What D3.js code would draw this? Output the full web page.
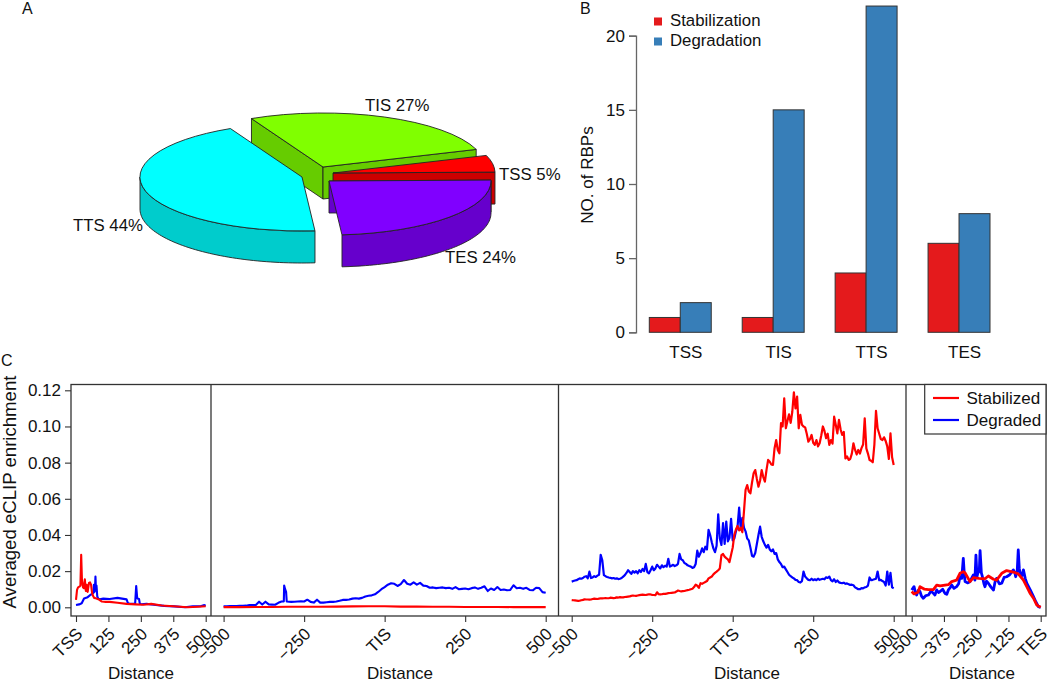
<!DOCTYPE html>
<html><head><meta charset="utf-8">
<script src="https://cdn.jsdelivr.net/npm/d3@7"></script>
<style>html,body{margin:0;padding:0;background:#fff}svg{display:block}text{font-family:"Liberation Sans",Arial,sans-serif;fill:#111}</style>
</head><body><svg id="c" width="1050" height="683"></svg>
<script>
// ---------- Panel A data
const pieNames = ["TES","TTS","TIS","TSS"];
const pieShares = [24,44,27,5];
const pieTop = ["#8000ff","#00ffff","#80ff00","#ff0000"];
const pieSide = ["#6600cc","#00cccc","#66cc00","#cc0000"];

// ---------- Panel B data
const barCats = ["TSS","TIS","TTS","TES"];
const barStabilization = [1,1,4,6];
const barDegradation = [2,15,22,8];

// ---------- Panel C data
const yTicks = [0,0.02,0.04,0.06,0.08,0.10,0.12];

const tssStabDist = [0,4,8,13,17,20,23,27,31,34,38,41,45,50,54,58,62,66,70,76,86,100,115,130,160,195,230,260,290,330,375,430,470,500];
const tssStabVal = [.0041,.0096,.0110,.0114,.0120,.0290,.0150,.0110,.0105,.0155,.0090,.0125,.0085,.0135,.0138,.0125,.0080,.0062,.0052,.0050,.0045,.0032,.0030,.0030,.0025,.0019,.0016,.0014,.0019,.0010,.0006,.0000,.0003,.0006];
const tssDegDist = [0,12,22,31,45,54,60,67,69,71,73,75,77,79,82,86,92,105,130,160,195,197,200,203,205,228,232,236,240,243,246,250,253,262,272,300,340,380,420,450,480,495,500];
const tssDegVal = [.0013,.0016,.0022,.0049,.0056,.0067,.0072,.0080,.0124,.0085,.0090,.0170,.0095,.0120,.0060,.0048,.0045,.0048,.0046,.0052,.0044,.0036,.0022,.0022,.0020,.0020,.0118,.0050,.0047,.0046,.0020,.0018,.0017,.0018,.0019,.0014,.0008,.0005,.0000,.0005,.0006,.0012,.0009];

const tisStabVal = [.0001,.0001,.0002,.0002,.0003,.0003,.0003,.0004,.0005,.0006,.0006,.0004,.0004,.0003,.0003,.0002,.0002,.0002,.0001,.0001,.0001];
const tisDegVal = [
.0005,.0006,.0007,.0007,.0007,.0008,.0008,.0009,.0013,.0013,
.0013,.0031,.0015,.0031,.0016,.0015,.0014,.0025,.0032,.0033,.0120,.0100,.0085,.0032,
.0030,.0031,.0032,.0033,.0032,.0042,.0030,.0026,.0042,
.0026,.0026,.0028,.0030,.0030,.0032,.0036,.0041,.0041,.0043,
.0048,.0050,.0048,.0052,.0060,.0064,.0066,.0072,.0085,.0100,
.0112,.0125,.0133,.0130,.0118,.0128,.0151,.0130,.0125,.0138,
.0125,.0135,.0120,.0118,.0108,.0110,.0106,.0108,.0110,.0106,
.0108,.0102,.0112,.0100,.0102,.0104,.0100,.0106,.0110,.0102,
.0108,.0116,.0090,.0104,.0096,.0112,.0096,.0098,.0094,.0096,
.0122,.0105,.0108,.0102,.0108,.0096,.0094,.0108,.0106,.0084,.0080];

const ttsStabVal = [
.0040,.0039,.0038,.0037,.0036,.0037,.0039,.0041,.0044,.0043,
.0043,.0042,.0043,.0046,.0048,.0047,.0046,.0048,.0050,.0049,
.0050,.0051,.0050,.0050,.0053,.0052,.0051,.0052,.0055,.0054,
.0056,.0055,.0055,.0057,.0058,.0059,.0060,.0063,.0065,.0064,
.0063,.0065,.0067,.0069,.0070,.0069,.0068,.0070,.0072,.0071,
.0069,.0068,.0067,.0083,.0072,.0071,.0072,.0074,.0074,.0076,
.0078,.0079,.0080,.0081,.0082,.0087,.0093,.0090,.0088,.0089,
.0090,.0093,.0095,.0097,.0100,.0103,.0112,.0125,.0119,.0108,
.0133,.0130,.0135,.0140,.0145,.0160,.0165,.0170,.0182,.0190,
.0197,.0205,.0215,.0289,.0295,.0280,.0272,.0265,.0250,.0290,
.0330,.0400,.0430,.0450,.0425,.0440,.0415,.0530,.0650,.0676,
.0640,.0630,.0690,.0741,.0759,.0710,.0667,.0700,.0759,.0720,
.0695,.0760,.0815,.0805,.0790,.0787,.0880,.0925,.0870,.0852,
.1018,.1000,.1156,.0990,.1030,.1067,.1020,.1080,.1189,.1100,
.1165,.0990,.1064,.1010,.1000,.0995,.0960,.0916,.0930,.0953,
.0910,.0898,.0925,.0890,.0907,.0950,.1000,.0975,.0935,.0960,
.0898,.0925,.0905,.1054,.1010,.0962,.1036,.0985,.0953,.0970,
.0823,.0835,.0815,.0820,.0850,.0907,.0870,.0845,.0870,.0850,
.0880,.0900,.1045,.0879,.0850,.0815,.0810,.0802,.0900,.1086,
.0990,.0960,.0930,.0925,.0940,.0920,.0890,.0820,.0962,.0830,.0787];
const ttsDegVal = [
.0142,.0145,.0148,.0150,.0155,.0160,.0158,.0162,.0169,.0172,
.0160,.0197,.0162,.0165,.0172,.0168,.0175,.0180,.0290,.0260,
.0178,.0172,.0168,.0165,.0163,.0160,.0162,.0158,.0160,.0156,
.0158,.0162,.0170,.0178,.0190,.0205,.0195,.0185,.0200,.0192,
.0200,.0188,.0205,.0195,.0212,.0200,.0240,.0195,.0188,.0205,
.0225,.0205,.0215,.0235,.0225,.0215,.0232,.0222,.0230,.0225,
.0268,.0225,.0230,.0235,.0228,.0232,.0240,.0295,.0265,.0260,
.0245,.0240,.0232,.0228,.0225,.0218,.0222,.0240,.0313,.0280,
.0300,.0326,.0305,.0335,.0320,.0428,.0400,.0360,.0326,.0305,
.0340,.0514,.0380,.0345,.0465,.0350,.0474,.0365,.0385,.0489,
.0370,.0380,.0420,.0445,.0551,.0430,.0495,.0440,.0420,.0380,
.0370,.0330,.0285,.0280,.0300,.0350,.0400,.0446,.0390,.0365,
.0345,.0330,.0345,.0320,.0310,.0320,.0295,.0300,.0265,.0250,
.0240,.0222,.0225,.0210,.0195,.0180,.0172,.0165,.0160,.0152,
.0150,.0140,.0137,.0145,.0198,.0170,.0160,.0152,.0150,.0158,
.0150,.0155,.0150,.0158,.0152,.0155,.0158,.0155,.0166,.0162,
.0170,.0150,.0143,.0155,.0140,.0148,.0138,.0135,.0134,.0136,
.0130,.0132,.0128,.0124,.0125,.0122,.0110,.0105,.0100,.0100,
.0106,.0105,.0110,.0112,.0120,.0165,.0150,.0152,.0155,.0158,
.0198,.0150,.0152,.0145,.0140,.0120,.0198,.0125,.0190,.0110,.0105];

const tesStabDist = [-500,-491,-475,-468,-450,-435,-416,-403,-390,-371,-358,-345,-326,-313,-300,-293,-274,-261,-240,-216,-203,-183,-171,-151,-132,-106,-87,-67,-54,-40,-28,-15,-9,0];
const tesStabVal = [.0087,.0074,.0085,.0114,.0100,.0098,.0098,.0123,.0118,.0123,.0125,.0142,.0150,.0188,.0197,.0190,.0142,.0164,.0160,.0158,.0173,.0155,.0150,.0188,.0203,.0195,.0185,.0150,.0114,.0075,.0050,.0012,.0007,.0000];
const tesDegDist = [-500,-491,-486,-481,-474,-468,-462,-455,-445,-435,-425,-416,-410,-403,-396,-390,-380,-371,-364,-358,-350,-345,-336,-326,-318,-313,-306,-300,-296,-293,-284,-274,-266,-261,-255,-251,-247,-244,-238,-235,-230,-226,-220,-216,-210,-203,-192,-183,-177,-171,-160,-151,-142,-132,-120,-106,-100,-97,-91,-87,-83,-80,-73,-67,-60,-54,-40,-28,-18,-9,0];
const tesDegVal = [.0096,.0114,.0085,.0068,.0095,.0087,.0062,.0050,.0065,.0068,.0090,.0077,.0068,.0096,.0082,.0087,.0100,.0077,.0072,.0096,.0110,.0123,.0105,.0114,.0130,.0169,.0160,.0271,.0180,.0142,.0135,.0142,.0165,.0179,.0150,.0289,.0170,.0188,.0200,.0313,.0190,.0169,.0130,.0114,.0145,.0133,.0110,.0096,.0140,.0160,.0130,.0133,.0165,.0169,.0180,.0207,.0190,.0169,.0200,.0317,.0215,.0188,.0175,.0207,.0160,.0133,.0095,.0059,.0028,.0004,.0000];

const panels = [
 {range:[76,205.7],  ticks:[0,125,250,375,500],        labels:["TSS","125","250","375","500"],        domain:[0,500]},
 {range:[223.6,545.7],ticks:[-500,-250,0,250,500],     labels:["−500","−250","TIS","250","500"],      domain:[-500,500]},
 {range:[571.7,893.7],ticks:[-500,-250,0,250,500],     labels:["−500","−250","TTS","250","500"],      domain:[-500,500]},
 {range:[911.7,1040.7],ticks:[-500,-375,-250,-125,0],  labels:["−500","−375","−250","−125","TES"],    domain:[-500,0]}
];
const tisDist = [...d3.range(-500,-310,10),-313,-312,-309,-306,-304,...d3.range(-290,501,10)];
const tisStabDist = d3.range(-500,501,50), ttsDist = d3.range(-500,501,5);
const panelSeries = [
 [[tssDegDist,tssDegVal,"#0000ff",2.1],[tssStabDist,tssStabVal,"#ff0000",2.1]],
 [[tisDist,tisDegVal,"#0000ff",2.1],[tisStabDist,tisStabVal,"#ff0000",2.1]],
 [[ttsDist,ttsDegVal,"#0000ff",2.2],[ttsDist,ttsStabVal,"#ff0000",2.2]],
 [[tesDegDist,tesDegVal,"#0000ff",2.8],[tesStabDist,tesStabVal,"#ff0000",2.8]]
];

const svg = d3.select("#c");
const label = (t,x,y,size,anchor="start",rot=0)=>svg.append("text").text(t)
  .attr("transform",`translate(${x},${y}) rotate(${rot})`).attr("font-size",size).attr("text-anchor",anchor);

label("A",22,14,16); label("B",580,14,16); label("C",1,366,16);

// ---------- Panel A: exploded 3-D pie
const rx=162, ry=54, depth=32;
const pieCentres = [[329,181],[302,177],[323,167],[333,173]];
const cutFaces = [["start"],[],["start","end"],["end"]];
const pieLabels = [["TES 24%",445,263],["TTS 44%",73,231],["TIS 27%",365,110.5],["TSS 5%",499,180]];
const pieStart = Math.PI/2 - Math.PI/180;
const arcs = d3.pie().sort(null).startAngle(pieStart).endAngle(pieStart+Math.PI*2)(pieShares);
const unitArc = d3.arc().innerRadius(0).outerRadius(1);
const pieLine = d3.line();
const ptAt = (c,a,dy=0)=>[c[0]+rx*Math.sin(a), c[1]-ry*Math.cos(a)+dy];
const gPie = svg.append("g").attr("stroke","#222").attr("stroke-width",0.9).attr("stroke-linejoin","round");
[2,3,1,0].forEach(i=>{
  const a=arcs[i], c=pieCentres[i];
  cutFaces[i].forEach(side=>{
    const ang = side==="start"?a.startAngle:a.endAngle, e=ptAt(c,ang);
    gPie.append("path").attr("fill",pieSide[i])
      .attr("d",pieLine([c,e,[e[0],e[1]+depth],[c[0],c[1]+depth]])+"Z");
  });
  const lo=Math.max(a.startAngle,Math.PI/2), hi=Math.min(a.endAngle,Math.PI*1.5);
  if(hi>lo){
    const n=60, ang=d3.range(n+1).map(k=>lo+(hi-lo)*k/n);
    const pts=ang.map(t=>ptAt(c,t)).concat(ang.slice().reverse().map(t=>ptAt(c,t,depth)));
    gPie.append("path").attr("fill",pieSide[i]).attr("d",pieLine(pts)+"Z");
  }
  gPie.append("path").attr("fill",pieTop[i]).attr("vector-effect","non-scaling-stroke")
    .attr("transform",`translate(${c[0]},${c[1]}) scale(${rx},${ry})`)
    .attr("d",unitArc(a));
});
pieLabels.forEach(l=>label(l[0],l[1],l[2],16.8));

// ---------- Panel B: bars
const by = d3.scaleLinear().domain([0,20]).range([332.3,35.7]);
const bx = d3.scaleBand().domain(barCats).range([649.3,990]).paddingInner(1/3).paddingOuter(0);
const bSub = d3.scaleBand().domain([0,1]).range([0,bx.bandwidth()]);
[[barStabilization,"#e41a1c"],[barDegradation,"#377eb8"]].forEach((s,k)=>{
  svg.append("g").selectAll("rect").data(s[0]).join("rect")
    .attr("x",(d,i)=>bx(barCats[i])+bSub(k)).attr("width",bSub.bandwidth())
    .attr("y",d=>by(d)).attr("height",d=>by(0)-by(d))
    .attr("fill",s[1]).attr("stroke","#333").attr("stroke-width",1);
});
const bAxis = svg.append("g").attr("transform","translate(636,0)")
  .call(d3.axisLeft(by).tickValues([0,5,10,15,20]).tickFormat(d3.format("d")).tickSize(7).tickPadding(4));
bAxis.selectAll("text").attr("font-size",17).attr("font-family",null);
bAxis.selectAll("line,path").attr("stroke","#666").attr("stroke-width",1.3);
barCats.forEach(c=>label(c,bx(c)+bx.bandwidth()/2+5.5,358,17,"middle"));
label("NO. of RBPs",593,175,17,"middle",-90);
[["Stabilization","#e41a1c",26],["Degradation","#377eb8",46]].forEach(l=>{
  svg.append("rect").attr("x",654).attr("y",l[2]-8.5).attr("width",8).attr("height",8).attr("fill",l[1]);
  label(l[0],670,l[2],16.8);
});

// ---------- Panel C: enrichment profiles
const cy = d3.scaleLinear().domain([0,0.12]).range([607.3,390.3]);
const frame = {l:71,r:1046,t:384.5,b:616};
const xAxisLabels = [141,400,747,982];
panels.forEach((p,i)=>{
  const x = d3.scaleLinear().domain(p.domain).range(p.range);
  const line = d3.line().x(d=>x(d[0])).y(d=>cy(d[1]));
  panelSeries[i].forEach(s=>{
    svg.append("path").attr("fill","none").attr("stroke",s[2]).attr("stroke-width",s[3])
      .attr("stroke-linejoin","round").attr("d",line(d3.zip(s[0],s[1])));
  });
  const ax = svg.append("g").attr("transform",`translate(0,${frame.b})`)
    .call(d3.axisBottom(x).tickValues(p.ticks).tickFormat((d,k)=>p.labels[k]).tickSize(6).tickPadding(4));
  ax.select(".domain").remove();
  ax.selectAll("line").attr("stroke","#333").attr("stroke-width",1.1);
  ax.selectAll("text").attr("font-size",17).attr("font-family",null)
    .attr("text-anchor","end").attr("dx",0).attr("dy",0)
    .attr("transform","translate(7,19) rotate(-45)").attr("y",0);
  label("Distance",xAxisLabels[i],678.5,17,"middle");
});
const gy = svg.append("g").attr("transform",`translate(${frame.l},0)`)
  .call(d3.axisLeft(cy).tickValues(yTicks).tickFormat(d3.format(".2f")).tickSize(6).tickPadding(4));
gy.select(".domain").remove();
gy.selectAll("line").attr("stroke","#333").attr("stroke-width",1.1);
gy.selectAll("text").attr("font-size",17).attr("font-family",null);
label("Averaged eCLIP enrichment",16,492,18.6,"middle",-90);
svg.append("rect").attr("x",frame.l).attr("y",frame.t).attr("width",frame.r-frame.l).attr("height",frame.b-frame.t)
  .attr("fill","none").attr("stroke","#333").attr("stroke-width",1.3);
[211,558.5,906].forEach(v=>svg.append("line").attr("x1",v).attr("x2",v).attr("y1",frame.t).attr("y2",frame.b)
  .attr("stroke","#333").attr("stroke-width",1.3));
svg.append("rect").attr("x",924.7).attr("y",frame.t).attr("width",frame.r-924.7).attr("height",49.5)
  .attr("fill","#fff").attr("stroke","#333").attr("stroke-width",1.2);
[["Stabilized","#ff0000",398,403.5],["Degraded","#0000ff",420,425.5]].forEach(l=>{
  svg.append("line").attr("x1",933).attr("x2",959).attr("y1",l[2]).attr("y2",l[2]).attr("stroke",l[1]).attr("stroke-width",2.2);
  label(l[0],966.5,l[3],17);
});
</script></body></html>
